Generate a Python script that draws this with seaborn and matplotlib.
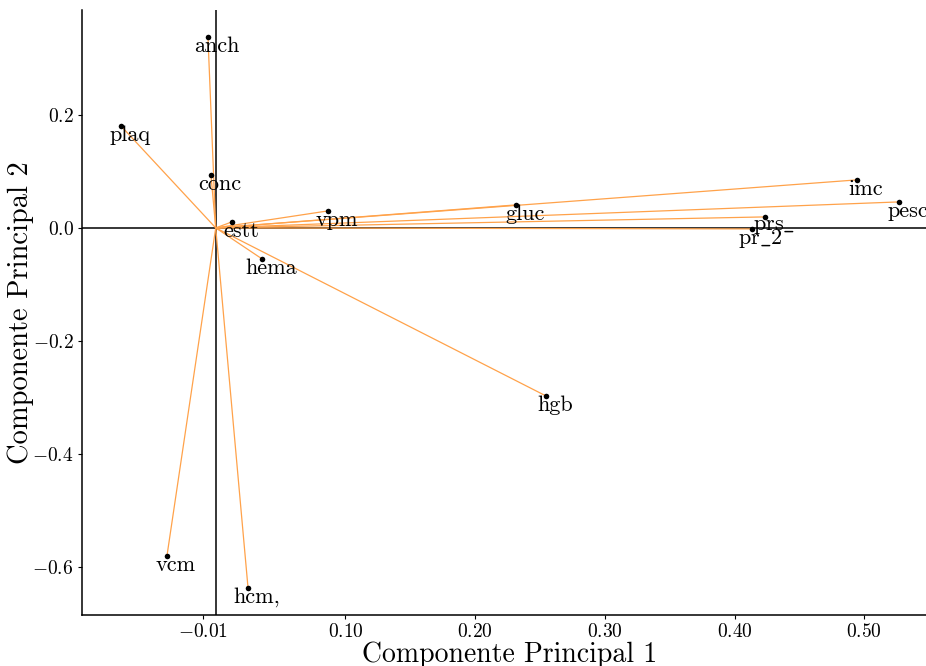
import matplotlib
matplotlib.use("Agg")
import matplotlib.pyplot as plt
import seaborn as sns
import pandas as pd

# PCA loadings on the first two principal components
variables = ["anch", "plaq", "conc", "estt", "vpm", "hema", "gluc",
             "imc", "pesc", "prs_", "pr_2", "hgb", "vcm", "hcm,"]
pc1 = [-0.006, -0.073, -0.0037, 0.0125, 0.0865, 0.0357, 0.2314,
       0.4942, 0.5266, 0.4233, 0.4133, 0.2545, -0.0376, 0.0249]
pc2 = [0.3375, 0.180, 0.0936, 0.0106, 0.030, -0.0548, 0.0406,
       0.0848, 0.0459, 0.0194, -0.0018, -0.2968, -0.5795, -0.636]

xticks = [-0.01, 0.10, 0.20, 0.30, 0.40, 0.50]
xticklabels = ["$-0.01$", "$0.10$", "$0.20$", "$0.30$", "$0.40$", "$0.50$"]
yticks = [-0.6, -0.4, -0.2, 0.0, 0.2]
yticklabels = ["$-0.6$", "$-0.4$", "$-0.2$", "$0.0$", "$0.2$"]

df = pd.DataFrame({"var": variables, "PC1": pc1, "PC2": pc2})

sns.set_theme(style="white")
plt.rcParams["mathtext.fontset"] = "cm"
plt.rcParams["font.family"] = ["cmr10", "DejaVu Serif"]
plt.rcParams["axes.unicode_minus"] = False
plt.rcParams["text.color"] = "black"
plt.rcParams["axes.labelcolor"] = "black"
plt.rcParams["xtick.color"] = "black"
plt.rcParams["ytick.color"] = "black"


def label_text(name):
    # cmr10 has no underscore glyph, so names with one go through mathtext
    if "_" in name:
        return r"$\mathrm{" + name.replace("_", r"\_") + "}$"
    return name


fig = plt.figure(figsize=(9.26, 6.66), dpi=100)
ax = fig.add_axes([82 / 926, 51 / 666, 1 - 82 / 926, (615 - 10) / 666])

# reference lines through the origin
ax.axhline(0, color="black", lw=1.1, zorder=1)
ax.axvline(0, color="black", lw=1.1, zorder=1)

# loading vectors from the origin
for _, r in df.iterrows():
    ax.plot([0, r.PC1], [0, r.PC2], color="#FFA24A", lw=0.9, zorder=2)

sns.scatterplot(data=df, x="PC1", y="PC2", ax=ax, color="black", s=16,
                edgecolor="black", linewidth=0, zorder=3)

for _, r in df.iterrows():
    ax.annotate(label_text(r["var"]), (r.PC1, r.PC2), xytext=(6.5, -6.8),
                textcoords="offset points", ha="center", va="center",
                fontsize=16, color="black", zorder=4)

ax.set_xlim(-0.1031, 0.5476)
ax.set_ylim(-0.684, 0.385)
ax.set_xticks(xticks)
ax.set_xticklabels(xticklabels, fontsize=14)
ax.set_yticks(yticks)
ax.set_yticklabels(yticklabels, fontsize=14)
ax.tick_params(axis="both", which="both", length=3, width=0.8,
               color="black", labelcolor="black", bottom=True, left=True, pad=3)
ax.set_xlabel("Componente Principal 1", fontsize=20, labelpad=0, color="black")
ax.xaxis.label.set_x(0.507)
ax.set_ylabel("Componente Principal 2", fontsize=20.5, labelpad=-1.5, color="black")

for side in ["top", "right"]:
    ax.spines[side].set_visible(False)
for side in ["left", "bottom"]:
    ax.spines[side].set_color("black")
    ax.spines[side].set_linewidth(1.1)

fig.savefig("out.png", dpi=100, facecolor="white")
